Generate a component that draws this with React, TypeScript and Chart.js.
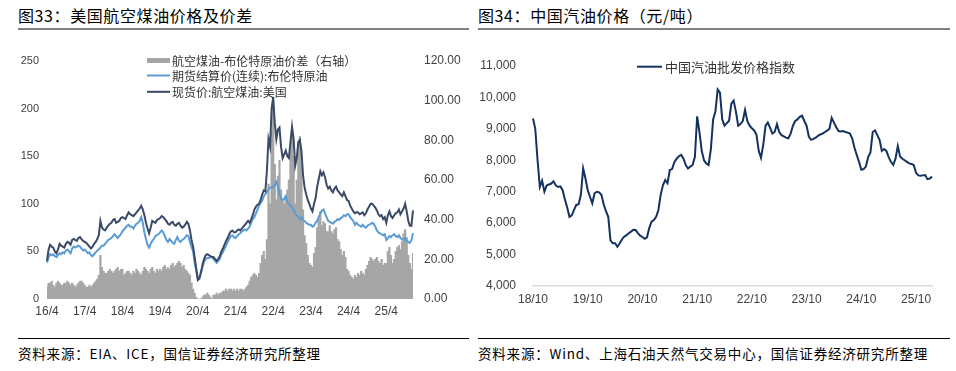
import React, { useEffect, useRef } from "react";
import { Chart, registerables } from "chart.js";

Chart.register(...registerables);
Chart.defaults.font.family = "'Liberation Sans', Arial, sans-serif";
Chart.defaults.color = "#404040";

// ---------- Figure 33: US jet fuel (half-monthly, 2016-04 .. 2025-12) ----------
const jetSpotPrice = [
  40, 52, 57, 55, 54, 50, 48, 52, 58, 56, 55, 54, 58, 60, 59, 57, 62, 63, 62, 61, 64, 65, 63, 61,
  60, 59, 57, 55, 53, 55, 58, 60, 63, 67, 82, 75, 73, 72, 75, 77, 79, 80, 83, 84, 80, 81, 82, 85,
  86, 85, 84, 88, 91, 89, 88, 87, 89, 91, 93, 95, 98, 94, 88, 80, 74, 69, 75, 82, 81, 80, 83, 84,
  85, 87, 86, 84, 82, 79, 78, 80, 81, 78, 77, 79, 80, 77, 75, 76, 78, 81, 79, 72, 62, 55, 44, 32,
  20, 22, 28, 36, 42, 46, 47, 46, 45, 44, 44, 42, 40, 42, 45, 50, 53, 57, 61, 64, 68, 71, 72, 70,
  70, 72, 73, 72, 74, 76, 78, 80, 82, 80, 84, 88, 94, 97, 99, 100, 104, 110, 114, 113, 135, 168, 160, 200,
  212, 185, 168, 178, 180, 160, 148, 152, 156, 150, 148, 165, 181, 168, 140, 148, 165, 167, 155, 130, 117, 110, 104, 100,
  95, 92, 100, 106, 118, 126, 134, 130, 133, 128, 120, 116, 118, 114, 112, 116, 118, 114, 112, 110, 108, 112, 108, 104,
  103, 98, 95, 92, 90, 91, 91, 89, 90, 91, 88, 90, 94, 97, 100, 100, 98, 96, 93, 89, 87, 88, 84, 86,
  80, 88, 92, 87, 85, 88, 90, 91, 94, 89, 92, 95, 100, 92, 82, 77, 77, 93,
];

const brentFutures = [
  38, 44, 47, 46, 47, 45, 44, 46, 48, 47, 49, 48, 51, 52, 50, 48, 53, 55, 54, 55, 56, 55, 53, 51,
  52, 50, 48, 49, 46, 45, 47, 49, 51, 52, 54, 56, 56, 58, 60, 62, 63, 64, 66, 68, 66, 64, 66, 68,
  71, 73, 75, 77, 78, 76, 76, 74, 77, 79, 80, 82, 86, 80, 70, 63, 57, 54, 58, 61, 63, 66, 67, 68,
  70, 72, 70, 66, 62, 60, 63, 61, 59, 58, 62, 65, 61, 60, 62, 63, 65, 67, 66, 60, 55, 50, 38, 30,
  22, 21, 27, 34, 39, 42, 43, 43, 44, 44, 42, 40, 38, 40, 42, 47, 49, 53, 56, 60, 63, 66, 67, 65,
  64, 66, 68, 69, 71, 72, 73, 72, 74, 76, 80, 84, 86, 90, 94, 98, 101, 103, 108, 110, 113, 115, 117, 117,
  118, 120, 123, 118, 110, 106, 104, 105, 108, 102, 100, 98, 96, 94, 90, 88, 86, 84, 86, 83, 82, 80, 79, 78,
  78, 76, 77, 80, 82, 86, 90, 93, 94, 90, 86, 82, 81, 80, 79, 81, 82, 84, 83, 85, 86, 88, 87, 89,
  89, 86, 84, 82, 78, 80, 78, 77, 76, 78, 76, 75, 77, 78, 79, 80, 79, 76, 72, 70, 69, 68, 67, 68,
  62, 64, 66, 65, 67, 68, 66, 65, 67, 64, 63, 62, 64, 61, 60, 59, 62, 69,
];

const jetBrentSpread = [
  6, 8, 8, 9, 7, 6, 8, 9, 8, 7, 7, 8, 8, 9, 8, 7, 8, 7, 6, 7, 8, 9, 9, 8,
  7, 6, 6, 7, 6, 7, 8, 9, 10, 12, 22, 16, 14, 13, 13, 14, 15, 14, 13, 14, 15, 16, 14, 15,
  15, 12, 13, 14, 14, 13, 12, 14, 13, 15, 14, 13, 12, 14, 16, 15, 14, 13, 15, 16, 14, 13, 15, 14,
  15, 14, 16, 17, 15, 16, 15, 17, 18, 16, 17, 18, 19, 18, 16, 17, 15, 14, 13, 12, 8, 5, 3, 1,
  0, 0, 0, 1, 2, 2, 3, 2, 1, 0, 2, 2, 3, 2, 3, 3, 4, 4, 5, 4, 5, 5, 4, 5,
  4, 5, 4, 5, 5, 4, 5, 6, 7, 9, 11, 12, 13, 12, 11, 13, 18, 22, 24, 20, 30, 58, 48, 85,
  97, 68, 50, 62, 70, 55, 50, 48, 52, 55, 60, 75, 85, 72, 48, 60, 78, 82, 68, 45, 32, 28, 22, 18,
  17, 16, 23, 26, 36, 40, 44, 37, 39, 38, 34, 34, 37, 34, 33, 35, 36, 30, 29, 25, 22, 24, 21, 15,
  14, 12, 11, 10, 12, 11, 13, 12, 14, 13, 12, 15, 17, 19, 21, 20, 19, 20, 21, 19, 18, 20, 17, 18,
  18, 24, 26, 22, 18, 20, 24, 26, 27, 25, 29, 33, 35, 31, 22, 18, 15, 23,
];

const jetTickLabels = ["16/4", "17/4", "18/4", "19/4", "20/4", "21/4", "22/4", "23/4", "24/4", "25/4"];
const jetLegendLabels = ["航空煤油-布伦特原油价差（右轴）", "期货结算价(连续):布伦特原油", "现货价:航空煤油:美国"];

// ---------- Figure 34: China gasoline wholesale index (half-monthly, 2018-10 .. 2026-01) ----------
const gasolineIndex = [
  9330, 9000, 8000, 7150, 7350, 7000, 7200, 7230, 7260, 7330, 7200, 7150, 7170, 7050, 6750, 6500, 6200, 6250, 6420, 6580, 6600, 6900, 7740, 7430,
  7050, 6840, 6630, 6950, 7000, 6980, 6900, 6600, 6380, 6200, 5450, 5360, 5360, 5250, 5350, 5480, 5570, 5620, 5680, 5730, 5790, 5780, 5680, 5600,
  5560, 5500, 5550, 5850, 6050, 6100, 6200, 6420, 6900, 7210, 7370, 7270, 7690, 7720, 7940, 8050, 8130, 8170, 8050, 7850, 7740, 7800, 7850, 8100,
  9400, 8900, 8300, 8000, 7900, 7850, 8350, 9300, 9550, 10250, 10150, 9300, 9100, 9180, 9260, 9800, 9900, 9550, 9100, 9150, 9250, 9600, 9250, 9100,
  9020, 8950, 8820, 8300, 8080, 8500, 9100, 9200, 9030, 8850, 8900, 9150, 8900, 8800, 8760, 8720, 8700, 8850, 9100, 9250, 9300, 9380, 9420, 9250,
  9100, 8750, 8650, 8680, 8720, 8780, 8820, 8850, 8900, 8940, 9000, 9350, 9200, 9050, 8930, 8920, 8930, 8900, 8880, 8850, 8700, 8400, 8170, 7950,
  7700, 7720, 7800, 8100, 8250, 8900, 8950, 8800, 8650, 8300, 8360, 8300, 8100, 7950, 7850, 8050, 8450, 8120, 8050, 8000, 7950, 7900, 7880, 7850,
  7600, 7520, 7510, 7520, 7530, 7400, 7420, 7480,
];
const gasTickLabels = ["18/10", "19/10", "20/10", "21/10", "22/10", "23/10", "24/10", "25/10"];
const gasLegendLabel = "中国汽油批发价格指数";

function halfMonths(startYear: number, startMonth: number, count: number): string[] {
  const out: string[] = [];
  for (let i = 0; i < count; i++) {
    const m = startMonth - 1 + Math.floor(i / 2);
    const y = startYear + Math.floor(m / 12);
    const mm = (m % 12) + 1;
    out.push(`${y}-${String(mm).padStart(2, "0")}${i % 2 === 0 ? "上" : "下"}`);
  }
  return out;
}
const jetCategories = halfMonths(2016, 4, jetSpotPrice.length);
const gasCategories = halfMonths(2018, 10, gasolineIndex.length);

const overlayLegend = {
  id: "overlayLegend",
  afterDraw(chart: any, _args: any, opts: any) {
    const { ctx, chartArea } = chart;
    ctx.save();
    ctx.font = opts.font;
    ctx.textBaseline = "middle";
    ctx.textAlign = "left";
    opts.items.forEach((it: any) => {
      const ds = chart.data.datasets[it.dataset];
      const x = chartArea.left + opts.dx;
      const y = chartArea.top + it.dy;
      if (it.kind === "box") {
        ctx.fillStyle = ds.backgroundColor;
        ctx.fillRect(x, y - 2.5, opts.markerWidth, 5);
      } else {
        ctx.strokeStyle = ds.borderColor;
        ctx.lineWidth = 2;
        ctx.beginPath();
        ctx.moveTo(x, y);
        ctx.lineTo(x + opts.markerWidth, y);
        ctx.stroke();
      }
      ctx.fillStyle = opts.color;
      ctx.fillText(ds.label, x + opts.markerWidth + opts.gap, y + 0.5);
    });
    ctx.restore();
  },
};

const CJK = "'Noto Sans CJK SC', 'Noto Sans', sans-serif";

const fixY = (w: number) => (s: any) => {
  s.width = w;
  s.paddingTop = 0;
  s.paddingBottom = 0;
};

function JetChart() {
  const ref = useRef<HTMLCanvasElement>(null);
  useEffect(() => {
    const chart = new Chart(ref.current as HTMLCanvasElement, {
      type: "line",
      data: {
        labels: jetCategories,
        datasets: [
          {
            type: "bar",
            label: jetLegendLabels[0],
            data: jetBrentSpread,
            yAxisID: "y1",
            backgroundColor: "#A6A6A6",
            borderWidth: 0,
            barPercentage: 1,
            categoryPercentage: 1,
            order: 3,
          } as any,
          {
            type: "line",
            label: jetLegendLabels[1],
            data: brentFutures,
            yAxisID: "y",
            borderColor: "#5B9BD5",
            borderWidth: 2,
            pointRadius: 0,
            tension: 0,
            order: 2,
          },
          {
            type: "line",
            label: jetLegendLabels[2],
            data: jetSpotPrice,
            yAxisID: "y",
            borderColor: "#3B4A67",
            borderWidth: 2,
            pointRadius: 0,
            tension: 0,
            order: 1,
          },
        ],
      },
      options: {
        responsive: false,
        animation: false,
        layout: { padding: { top: 11, left: 0, right: 0, bottom: 0 } },
        plugins: {
          legend: { display: false },
          tooltip: { enabled: false },
          overlayLegend: {
            font: `12px ${CJK}`,
            color: "#333333",
            dx: 100,
            markerWidth: 23,
            gap: 2,
            items: [
              { dataset: 0, kind: "box", dy: -0.5 },
              { dataset: 1, kind: "line", dy: 14.5 },
              { dataset: 2, kind: "line", dy: 30.8 },
            ],
          },
        } as any,
        scales: {
          x: {
            type: "category",
            offset: false,
            grid: { display: false, drawTicks: false },
            border: { display: false },
            ticks: {
              autoSkip: false,
              maxRotation: 0,
              minRotation: 0,
              padding: 5.5,
              font: { size: 12 },
              color: "#404040",
              callback: (_v: any, i: number) => (i % 24 === 0 ? jetTickLabels[i / 24] ?? "" : ""),
            },
            afterFit: (s: any) => {
              s.height = 26;
            },
          },
          y: {
            position: "left",
            min: 0,
            max: 250,
            grid: { display: false, drawTicks: false },
            border: { display: false },
            ticks: { stepSize: 50, padding: 8, font: { size: 11 }, color: "#404040" },
            afterFit: fixY(37),
          },
          y1: {
            position: "right",
            min: 0,
            max: 120,
            grid: { display: false, drawTicks: false },
            border: { display: false },
            ticks: {
              stepSize: 20,
              padding: 11,
              font: { size: 12 },
              color: "#404040",
              callback: (v: any) => Number(v).toFixed(2),
            },
            afterFit: fixY(57),
          },
        } as any,
      },
      plugins: [overlayLegend as any],
    });
    return () => chart.destroy();
  }, []);
  return <canvas ref={ref} width={460} height={275} style={{ display: "block", width: 460, height: 275 }} />;
}

function GasChart() {
  const ref = useRef<HTMLCanvasElement>(null);
  useEffect(() => {
    const chart = new Chart(ref.current as HTMLCanvasElement, {
      type: "line",
      data: {
        labels: gasCategories,
        datasets: [
          {
            label: gasLegendLabel,
            data: gasolineIndex,
            borderColor: "#14325F",
            borderWidth: 2,
            pointRadius: 0,
            tension: 0,
          },
        ],
      },
      options: {
        responsive: false,
        animation: false,
        layout: { padding: { top: 16, left: 0, right: 16, bottom: 0 } },
        plugins: {
          legend: { display: false },
          tooltip: { enabled: false },
          overlayLegend: {
            font: `13px ${CJK}`,
            color: "#333333",
            dx: 104,
            markerWidth: 25,
            gap: 3,
            items: [{ dataset: 0, kind: "line", dy: 0.7 }],
          },
        } as any,
        scales: {
          x: {
            type: "category",
            offset: false,
            grid: { display: false, drawTicks: false },
            border: { display: true, color: "#D9D9D9", width: 1.5 },
            ticks: {
              autoSkip: false,
              maxRotation: 0,
              minRotation: 0,
              padding: 6,
              font: { size: 12 },
              color: "#404040",
              callback: (_v: any, i: number) => (i % 24 === 0 ? gasTickLabels[i / 24] ?? "" : ""),
            },
            afterFit: (s: any) => {
              s.height = 29;
            },
          },
          y: {
            position: "left",
            min: 4000,
            max: 11000,
            grid: { display: false, drawTicks: false },
            border: { display: false },
            ticks: {
              stepSize: 1000,
              padding: 17,
              font: { size: 12 },
              color: "#404040",
              callback: (v: any) => Number(v).toLocaleString("en-US"),
            },
            afterFit: fixY(55),
          },
        } as any,
      },
      plugins: [overlayLegend as any],
    });
    return () => chart.destroy();
  }, []);
  return <canvas ref={ref} width={470} height={265} style={{ display: "block", width: 470, height: 265 }} />;
}

const abs = (s: React.CSSProperties): React.CSSProperties => ({ position: "absolute", ...s });

export default function App() {
  const titleStyle: React.CSSProperties = {
    fontSize: 16,
    lineHeight: "20px",
    letterSpacing: "0.6px",
    color: "#000",
    whiteSpace: "nowrap",
  };
  const sourceStyle: React.CSSProperties = {
    fontSize: 13.5,
    lineHeight: "18px",
    letterSpacing: "0.8px",
    color: "#000",
    whiteSpace: "nowrap",
  };
  return (
    <div
      style={abs({
        left: 0,
        top: 0,
        width: 956,
        height: 371,
        background: "#ffffff",
        overflow: "hidden",
        fontFamily: CJK,
      })}
    >
      <div style={abs({ left: 18, top: 5, ...titleStyle })}>图33：美国航空煤油价格及价差</div>
      <div style={abs({ left: 18, top: 28, width: 451, height: 2, background: "#7F7F7F" })} />
      <div style={abs({ left: 10, top: 50, width: 460, height: 275 })}>
        <JetChart />
      </div>
      <div style={abs({ left: 18, top: 338, width: 451, height: 1, background: "#000" })} />
      <div style={abs({ left: 18, top: 344, ...sourceStyle })}>资料来源：EIA、ICE，国信证券经济研究所整理</div>

      <div style={abs({ left: 478, top: 5, ...titleStyle })}>图34：中国汽油价格（元/吨）</div>
      <div style={abs({ left: 478, top: 28, width: 472, height: 2, background: "#7F7F7F" })} />
      <div style={abs({ left: 478, top: 50, width: 470, height: 265 })}>
        <GasChart />
      </div>
      <div style={abs({ left: 478, top: 338, width: 472, height: 1, background: "#000" })} />
      <div style={abs({ left: 478, top: 344, ...sourceStyle })}>
        资料来源：Wind、上海石油天然气交易中心，国信证券经济研究所整理
      </div>
    </div>
  );
}
